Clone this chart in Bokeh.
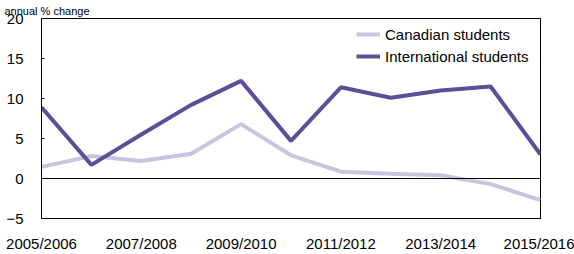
from bokeh.plotting import figure
from bokeh.models import Span, Legend, LegendItem, FixedTicker, Title
from bokeh.embed import file_html
from bokeh.resources import INLINE

years = ["2005/2006", "2006/2007", "2007/2008", "2008/2009", "2009/2010", "2010/2011",
         "2011/2012", "2012/2013", "2013/2014", "2014/2015", "2015/2016"]
canadian = [1.45, 2.8, 2.2, 3.1, 6.8, 2.9, 0.85, 0.6, 0.4, -0.7, -2.7]
international = [8.9, 1.7, 5.5, 9.2, 12.2, 4.7, 11.4, 10.1, 11.0, 11.5, 3.0]
y_ticks = [-5, 0, 5, 10, 15, 20]
x_label_idx = [0, 2, 4, 6, 8, 10]

FONT = "Liberation Sans"
xs = list(range(len(years)))

p = figure(width=574, height=254, output_backend="svg", toolbar_location=None,
           x_range=(0, len(years) - 1), y_range=(-5, 20),
           min_border_left=41, min_border_right=34, min_border_top=0, min_border_bottom=28)

p.title = Title(text="annual % change", align="left", offset=-37, standoff=4,
                text_font=FONT, text_font_size="11px", text_font_style="normal",
                text_color="black")

p.grid.visible = False
p.outline_line_color = "black"
p.outline_line_width = 1
p.background_fill_color = "white"
p.border_fill_color = "white"

r_can = p.line(xs, canadian, line_color="#c9c5df", line_width=4)
r_int = p.line(xs, international, line_color="#5b4f97", line_width=4)

p.add_layout(Span(location=0, dimension="width", line_color="black", line_width=1))

p.yaxis.ticker = FixedTicker(ticks=y_ticks)
p.yaxis.major_tick_in = 3
p.yaxis.major_tick_out = 0
p.yaxis.minor_tick_line_color = None
p.yaxis.major_label_standoff = 18
p.yaxis.axis_line_color = "black"
p.yaxis.major_tick_line_color = "black"

p.xaxis.ticker = FixedTicker(ticks=x_label_idx)
p.xaxis.major_label_overrides = {i: years[i] for i in x_label_idx}
p.xaxis.major_tick_line_color = None
p.xaxis.minor_tick_line_color = None
p.xaxis.major_label_standoff = 10
p.xaxis.axis_line_color = "black"

for ax in (p.xaxis, p.yaxis):
    ax.major_label_text_font = FONT
    ax.major_label_text_font_size = "15px"
    ax.major_label_text_color = "black"

legend = Legend(items=[LegendItem(label="Canadian students", renderers=[r_can]),
                       LegendItem(label="International students", renderers=[r_int])],
                location=(315, 151), border_line_color=None, background_fill_alpha=0,
                padding=0, margin=0, spacing=0, glyph_width=24, glyph_height=22,
                label_standoff=5, label_height=22,
                label_text_font=FONT, label_text_font_size="15px", label_text_color="black")
p.add_layout(legend)

open("out.html", "w").write(file_html(p, INLINE))
